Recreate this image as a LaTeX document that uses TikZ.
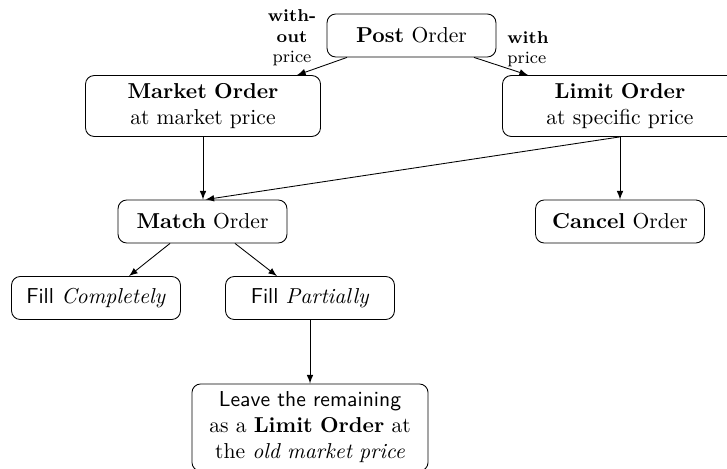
\documentclass[tikz,border=0pt]{standalone}
\usetikzlibrary{calc}
\begin{document}
\begin{tikzpicture}[x=0.463pt,y=-0.463pt,
  box/.style={draw, rounded corners=4pt, align=center, inner sep=0pt},
  smallbox/.style={box, minimum width=78.2pt, minimum height=19.9pt},
  bigbox/.style={box, text width=108.8pt, minimum height=28.2pt},
  arr/.style={-latex},
  lbl/.style={font=\footnotesize, inner sep=0pt}
]
\useasboundingbox (0,0) rectangle (727,469);
\clip (0,0) rectangle (727,469);
\node[smallbox] (post) at (411.5,35.5) {\textbf{Post} Order};
\node[bigbox] (market) at (203,106) {\textbf{Market Order}\\at market price};
\node[bigbox] (limit) at (620,106) {\textbf{Limit Order}\\at specific price};
\node[smallbox] (match) at (202.5,221.5) {\textbf{Match} Order};
\node[smallbox] (cancel) at (620,221.5) {\textbf{Cancel} Order};
\node[smallbox] (fillc) at (96,298) {\textsf{Fill} \textit{Completely}};
\node[smallbox] (fillp) at (310,298) {\textsf{Fill} \textit{Partially}};
\node[box, text width=109.3pt, minimum height=40.3pt] (leave) at (310,427.5)
  {\textsf{Leave the remaining}\\as a \textbf{Limit Order} at\\the \textit{old market price}};
\node[lbl, align=center] (lw) at (292,38) {\textbf{with-}\\\textbf{out}\\price};
\node[lbl, align=left] (rw) at (528,49) {\textbf{with}\\price};
\draw[arr] ($(post.south)+(-64.5,0)$) -- ($(market.north)+(94,0)$);
\draw[arr] ($(post.south)+(62.5,0)$) -- ($(limit.north)+(-92,0)$);
\draw[arr] (market.south) -- (market.south |- match.north);
\draw[arr] (limit.south) -- ($(match.north)+(3,0)$);
\draw[arr] (limit.south) -- (cancel.north);
\draw[arr] ($(match.south)+(-32.5,0)$) -- ($(fillc.north)+(33,0)$);
\draw[arr] ($(match.south)+(32.5,0)$) -- ($(fillp.north)+(-33,0)$);
\draw[arr] (fillp.south) -- (leave.north);
\end{tikzpicture}
\end{document}
